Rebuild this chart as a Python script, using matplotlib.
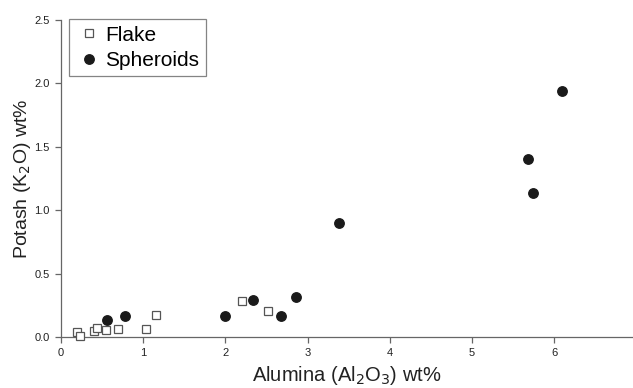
import matplotlib.pyplot as plt

plt.rcParams['font.family'] = ['Liberation Sans', 'DejaVu Sans']

# Flake
flake_x = [0.20, 0.23, 0.40, 0.44, 0.55, 0.69, 1.03, 1.16, 2.20, 2.52]
flake_y = [0.037, 0.008, 0.047, 0.068, 0.055, 0.065, 0.060, 0.17, 0.286, 0.207]

# Spheroids
sph_x = [0.56, 0.78, 2.00, 2.33, 2.68, 2.86, 3.38, 5.68, 5.74, 6.10]
sph_y = [0.137, 0.168, 0.168, 0.294, 0.168, 0.315, 0.897, 1.40, 1.135, 1.94]

fig = plt.figure(figsize=(6.33, 3.88), dpi=100)
ax = fig.add_axes([0.0964, 0.1314, 0.9036, 0.8170])

ax.plot(flake_x, flake_y, 's', ms=6.4, mfc='white', mec='#555555', mew=0.9,
        label='Flake', clip_on=False, zorder=3)
ax.plot(sph_x, sph_y, 'o', ms=6.8, mfc='#1a1a1a', mec='#1a1a1a',
        label='Spheroids', clip_on=False, zorder=3)

ax.set_xlim(0, 6.96)
ax.set_ylim(0, 2.5)
ax.set_xticks([0, 1, 2, 3, 4, 5, 6])
ax.set_xticklabels(['0', '1', '2', '3', '4', '5', '6'])
ax.set_yticks([0, 0.5, 1.0, 1.5, 2.0, 2.5])
ax.set_yticklabels(['0.0', '0.5', '1.0', '1.5', '2.0', '2.5'])

for s in ['top', 'right']:
    ax.spines[s].set_visible(False)
for s in ['left', 'bottom']:
    ax.spines[s].set_color('#666666')
    ax.spines[s].set_linewidth(0.9)
ax.tick_params(direction='out', length=4, width=0.9, color='#666666',
               labelsize=8, labelcolor='#222222', pad=4)

ax.set_xlabel('Alumina (Al$_2$O$_3$) wt%', fontsize=14.5, color='#222222', labelpad=4)
ax.set_ylabel('Potash (K$_2$O) wt%', fontsize=14, color='#222222', labelpad=1)

leg = ax.legend(loc='upper left', bbox_to_anchor=(0.014, 1.002), fontsize=15,
                frameon=True, fancybox=False, edgecolor='#666666',
                handletextpad=0.15, borderpad=0.3, labelspacing=0.3,
                handlelength=1.3, borderaxespad=0)
leg.get_frame().set_linewidth(0.9)

fig.savefig('out.png', dpi=100)
